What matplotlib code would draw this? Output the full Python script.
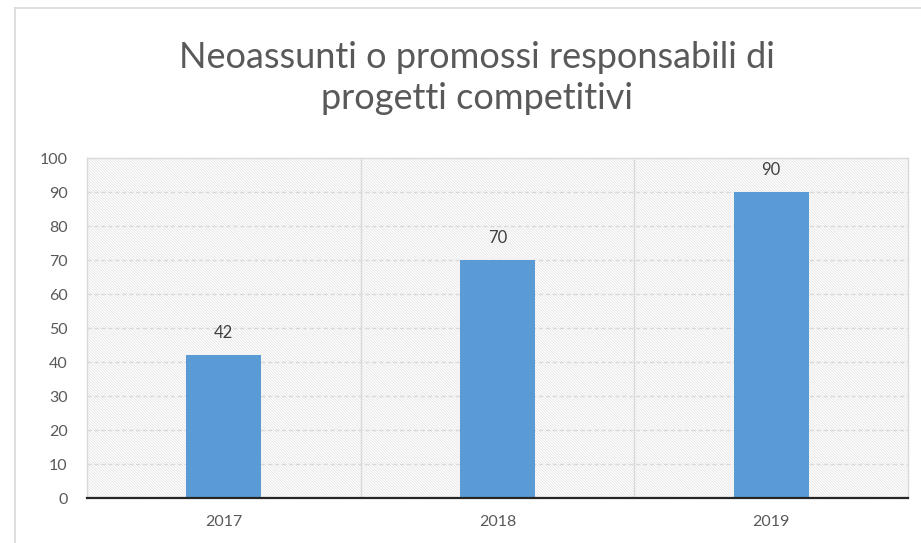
import matplotlib.pyplot as plt
from matplotlib.lines import Line2D
from matplotlib.patches import Rectangle

years = ["2017", "2018", "2019"]
values = [42, 70, 90]
y_ticks = [0, 10, 20, 30, 40, 50, 60, 70, 80, 90, 100]

plt.rcParams["font.family"] = ["Lato", "DejaVu Sans"]
plt.rcParams["hatch.linewidth"] = 0.5
plt.rcParams["hatch.color"] = "#e0e0e0"

grey_text = "#595959"
grid_grey = "#d9d9d9"


def main() -> None:
    fig = plt.figure(figsize=(9.21, 5.43), dpi=100)
    ax = fig.add_axes((87 / 921, 45 / 543, 821 / 921, 340 / 543))

    # hatched plot area background
    ax.add_patch(Rectangle((0, 0), 1, 1, transform=ax.transAxes, facecolor="white",
                           edgecolor="#e0e0e0", hatch="\\" * 12, lw=0, zorder=0))

    x = list(range(len(years)))
    bars = ax.bar(x, values, width=0.275, color="#5B9BD5", zorder=3)
    for b, v in zip(bars, values):
        ax.annotate(str(v), (b.get_x() + b.get_width() / 2, v), xytext=(0, 10),
                    textcoords="offset points", ha="center", va="bottom",
                    fontsize=12, color="#404040")

    ax.set_xlim(-0.5, len(years) - 0.5)
    ax.set_ylim(0, 100)
    ax.set_yticks(y_ticks)
    ax.set_xticks(x)
    ax.set_xticklabels(years)
    ax.tick_params(length=0, labelsize=11.5, labelcolor=grey_text)
    ax.tick_params(axis="y", pad=14)
    ax.tick_params(axis="x", pad=12)

    for yv in y_ticks[1:-1]:
        ax.axhline(yv, color=grid_grey, lw=1, ls=(0, (3, 2)), zorder=1)
    for xv in (0.5, 1.5):
        ax.axvline(xv, color=grid_grey, lw=1, zorder=1)

    for side in ("top", "left", "right"):
        ax.spines[side].set_color(grid_grey)
        ax.spines[side].set_linewidth(1)
    ax.spines["bottom"].set_color("#262626")
    ax.spines["bottom"].set_linewidth(1.6)
    ax.spines["bottom"].set_zorder(4)

    fig.text(477 / 921, 1 - 78 / 543,
             "Neoassunti o promossi responsabili di\nprogetti competitivi",
             ha="center", va="center", fontsize=26, color=grey_text, linespacing=1.3)

    # outer chart frame (partly cropped)
    fig.add_artist(Line2D([15 / 921, 15 / 921], [0, 1 - 8 / 543],
                          transform=fig.transFigure, color=grid_grey, lw=1.2))
    fig.add_artist(Line2D([15 / 921, 1], [1 - 8 / 543, 1 - 8 / 543],
                          transform=fig.transFigure, color=grid_grey, lw=1.2))

    fig.savefig("out.png", dpi=100)


main() if __name__ == "__main__" else None
